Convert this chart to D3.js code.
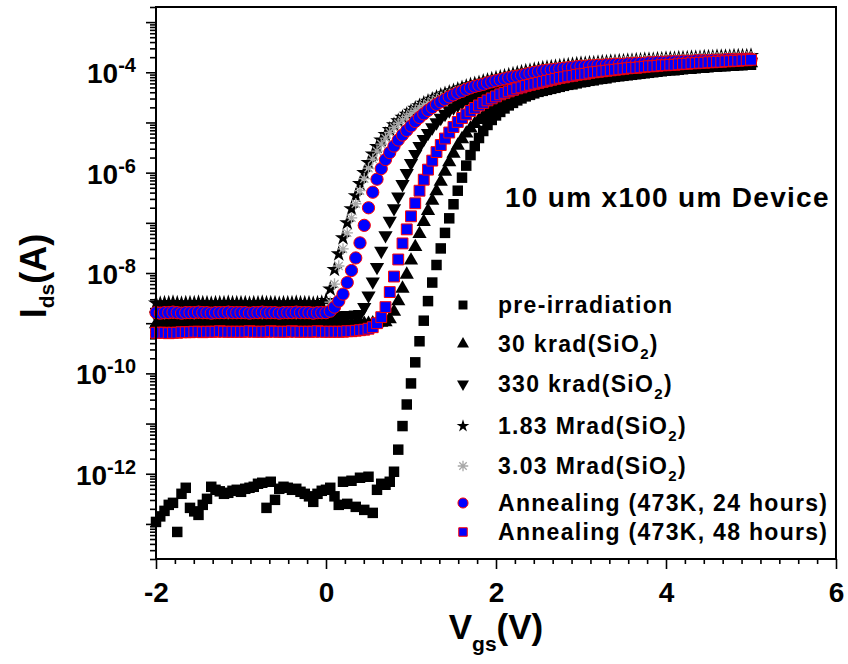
<!DOCTYPE html>
<html>
<head>
<meta charset="utf-8">
<script src="https://cdn.jsdelivr.net/npm/d3@7"></script>
<style>
  html, body { margin: 0; padding: 0; background: #fff; }
  svg { display: block; font-family: "Liberation Sans", Arial, sans-serif; font-weight: bold; }
</style>
</head>
<body>
<svg id="chart" width="848" height="664"></svg>
<script>
// Gate sweep (V)
const vgs = [
  -2.00,-1.95,-1.90,-1.85,-1.80,-1.75,-1.70,-1.65,-1.60,-1.55,-1.50,-1.45,-1.40,-1.35,-1.30,-1.25,-1.20,-1.15,-1.10,-1.05,
  -1.00,-0.95,-0.90,-0.85,-0.80,-0.75,-0.70,-0.65,-0.60,-0.55,-0.50,-0.45,-0.40,-0.35,-0.30,-0.25,-0.20,-0.15,-0.10,-0.05,
  0.00,0.05,0.10,0.15,0.20,0.25,0.30,0.35,0.40,0.45,0.50,0.55,0.60,0.65,0.70,0.75,0.80,0.85,0.90,0.95,
  1.00,1.05,1.10,1.15,1.20,1.25,1.30,1.35,1.40,1.45,1.50,1.55,1.60,1.65,1.70,1.75,1.80,1.85,1.90,1.95,
  2.00,2.05,2.10,2.15,2.20,2.25,2.30,2.35,2.40,2.45,2.50,2.55,2.60,2.65,2.70,2.75,2.80,2.85,2.90,2.95,
  3.00,3.05,3.10,3.15,3.20,3.25,3.30,3.35,3.40,3.45,3.50,3.55,3.60,3.65,3.70,3.75,3.80,3.85,3.90,3.95,
  4.00,4.05,4.10,4.15,4.20,4.25,4.30,4.35,4.40,4.45,4.50,4.55,4.60,4.65,4.70,4.75,4.80,4.85,4.90,4.95,
  5.00
];

// log10(Ids / A) for each condition, one value per gate voltage above
const logPre = [
  -12.96,-12.85,-12.74,-12.62,-12.58,-13.16,-12.40,-12.28,-12.68,-12.75,-12.82,-12.62,-12.50,-12.26,-12.32,-12.35,-12.40,-12.38,-12.34,-12.32,
  -12.36,-12.30,-12.28,-12.26,-12.20,-12.18,-12.68,-12.16,-12.52,-12.30,-12.26,-12.28,-12.32,-12.30,-12.36,-12.40,-12.45,-12.56,-12.40,-12.34,
  -12.32,-12.28,-12.45,-12.62,-12.16,-12.60,-12.14,-12.66,-12.08,-12.72,-12.06,-12.78,-12.32,-12.20,-12.22,-12.16,-11.96,-11.52,-11.05,-10.62,
  -10.20,-9.78,-9.36,-8.95,-8.56,-8.19,-7.84,-7.51,-7.20,-6.91,-6.63,-6.36,-6.10,-5.86,-5.65,-5.47,-5.31,-5.17,-5.05,-4.95,
  -4.86,-4.79,-4.72,-4.66,-4.61,-4.56,-4.52,-4.48,-4.45,-4.42,-4.39,-4.37,-4.35,-4.33,-4.31,-4.29,-4.27,-4.25,-4.24,-4.22,
  -4.20,-4.19,-4.17,-4.16,-4.14,-4.13,-4.12,-4.10,-4.09,-4.08,-4.07,-4.06,-4.05,-4.04,-4.03,-4.02,-4.01,-4.00,-3.99,-3.98,
  -3.97,-3.96,-3.96,-3.95,-3.94,-3.93,-3.93,-3.92,-3.91,-3.91,-3.90,-3.89,-3.89,-3.88,-3.88,-3.87,-3.87,-3.86,-3.86,-3.85,
  -3.85
];
const log30k = [
  -9.02,-9.02,-9.01,-9.02,-9.02,-9.03,-9.01,-9.02,-9.02,-9.02,-9.03,-9.01,-9.02,-9.02,-9.02,-9.02,-9.01,-9.02,-9.03,-9.02,
  -9.02,-9.02,-9.02,-9.01,-9.02,-9.02,-9.03,-9.02,-9.01,-9.02,-9.02,-9.02,-9.02,-9.03,-9.01,-9.02,-9.02,-9.02,-9.02,-9.02,
  -9.02,-9.02,-9.02,-9.02,-9.02,-9.02,-9.02,-9.01,-9.01,-9.01,-9.01,-9.00,-9.00,-8.99,-8.98,-8.92,-8.77,-8.56,-8.31,-8.03,
  -7.75,-7.48,-7.22,-6.98,-6.76,-6.56,-6.37,-6.18,-5.98,-5.79,-5.62,-5.46,-5.33,-5.22,-5.12,-5.03,-4.95,-4.88,-4.81,-4.75,
  -4.69,-4.64,-4.59,-4.55,-4.51,-4.48,-4.45,-4.42,-4.40,-4.38,-4.36,-4.34,-4.32,-4.30,-4.28,-4.26,-4.24,-4.22,-4.21,-4.19,
  -4.17,-4.16,-4.14,-4.13,-4.11,-4.10,-4.09,-4.07,-4.06,-4.05,-4.04,-4.03,-4.02,-4.01,-4.00,-3.99,-3.98,-3.97,-3.96,-3.95,
  -3.94,-3.93,-3.93,-3.92,-3.91,-3.90,-3.90,-3.89,-3.88,-3.88,-3.87,-3.86,-3.86,-3.85,-3.85,-3.84,-3.84,-3.83,-3.83,-3.82,
  -3.82
];
const log330k = [
  -8.85,-8.86,-8.85,-8.85,-8.84,-8.85,-8.86,-8.85,-8.85,-8.85,-8.84,-8.85,-8.85,-8.86,-8.85,-8.85,-8.85,-8.84,-8.85,-8.85,
  -8.85,-8.85,-8.86,-8.85,-8.85,-8.84,-8.85,-8.85,-8.85,-8.86,-8.85,-8.85,-8.85,-8.84,-8.85,-8.85,-8.85,-8.86,-8.85,-8.85,
  -8.85,-8.85,-8.85,-8.85,-8.85,-8.84,-8.84,-8.83,-8.82,-8.68,-8.45,-8.17,-7.88,-7.56,-7.25,-6.96,-6.71,-6.48,-6.23,-6.01,
  -5.81,-5.63,-5.47,-5.33,-5.21,-5.10,-5.00,-4.91,-4.83,-4.76,-4.70,-4.65,-4.60,-4.56,-4.52,-4.48,-4.45,-4.42,-4.39,-4.36,
  -4.33,-4.30,-4.28,-4.26,-4.24,-4.22,-4.20,-4.18,-4.17,-4.15,-4.13,-4.12,-4.10,-4.09,-4.08,-4.06,-4.05,-4.04,-4.03,-4.02,
  -4.01,-4.00,-3.99,-3.98,-3.97,-3.96,-3.95,-3.95,-3.94,-3.93,-3.92,-3.92,-3.91,-3.90,-3.90,-3.89,-3.89,-3.88,-3.88,-3.87,
  -3.87,-3.86,-3.86,-3.85,-3.85,-3.84,-3.84,-3.83,-3.83,-3.83,-3.82,-3.82,-3.81,-3.81,-3.81,-3.80,-3.80,-3.80,-3.79,-3.79,
  -3.79
];
const log183M = [
  -8.60,-8.61,-8.60,-8.60,-8.59,-8.60,-8.61,-8.60,-8.60,-8.60,-8.59,-8.60,-8.60,-8.61,-8.60,-8.60,-8.60,-8.59,-8.60,-8.60,
  -8.60,-8.60,-8.61,-8.60,-8.60,-8.59,-8.60,-8.60,-8.60,-8.61,-8.60,-8.60,-8.60,-8.59,-8.60,-8.60,-8.60,-8.61,-8.60,-8.59,
  -8.55,-8.32,-7.93,-7.62,-7.30,-7.00,-6.72,-6.46,-6.22,-6.00,-5.80,-5.63,-5.48,-5.35,-5.24,-5.14,-5.05,-4.97,-4.90,-4.84,
  -4.78,-4.72,-4.67,-4.62,-4.58,-4.54,-4.50,-4.46,-4.43,-4.40,-4.37,-4.34,-4.31,-4.28,-4.25,-4.23,-4.21,-4.18,-4.16,-4.14,
  -4.12,-4.10,-4.08,-4.06,-4.04,-4.02,-4.00,-3.98,-3.97,-3.95,-3.94,-3.92,-3.91,-3.90,-3.89,-3.88,-3.87,-3.86,-3.85,-3.84,
  -3.83,-3.83,-3.82,-3.82,-3.81,-3.80,-3.80,-3.79,-3.79,-3.78,-3.78,-3.77,-3.77,-3.76,-3.76,-3.75,-3.75,-3.75,-3.74,-3.74,
  -3.73,-3.73,-3.73,-3.72,-3.72,-3.72,-3.71,-3.71,-3.71,-3.70,-3.70,-3.70,-3.69,-3.69,-3.69,-3.69,-3.68,-3.68,-3.68,-3.68,
  -3.67
];
const log303M = [
  -8.80,-8.80,-8.81,-8.80,-8.80,-8.80,-8.79,-8.80,-8.80,-8.81,-8.80,-8.80,-8.80,-8.80,-8.79,-8.80,-8.80,-8.81,-8.80,-8.80,
  -8.80,-8.79,-8.80,-8.80,-8.80,-8.81,-8.80,-8.80,-8.80,-8.80,-8.79,-8.80,-8.80,-8.81,-8.80,-8.80,-8.80,-8.80,-8.79,-8.80,
  -8.78,-8.58,-8.22,-7.86,-7.52,-7.20,-6.90,-6.62,-6.36,-6.12,-5.91,-5.73,-5.57,-5.43,-5.31,-5.20,-5.10,-5.02,-4.95,-4.88,
  -4.82,-4.76,-4.71,-4.66,-4.62,-4.58,-4.54,-4.50,-4.47,-4.44,-4.41,-4.38,-4.35,-4.32,-4.29,-4.27,-4.24,-4.22,-4.20,-4.18,
  -4.16,-4.14,-4.12,-4.10,-4.08,-4.06,-4.04,-4.02,-4.00,-3.99,-3.97,-3.96,-3.94,-3.93,-3.92,-3.91,-3.90,-3.89,-3.88,-3.87,
  -3.86,-3.85,-3.84,-3.84,-3.83,-3.82,-3.82,-3.81,-3.80,-3.80,-3.79,-3.79,-3.78,-3.78,-3.77,-3.77,-3.77,-3.76,-3.76,-3.75,
  -3.75,-3.75,-3.74,-3.74,-3.74,-3.73,-3.73,-3.73,-3.72,-3.72,-3.72,-3.71,-3.71,-3.71,-3.71,-3.70,-3.70,-3.70,-3.70,-3.69,
  -3.69
];
const logAnneal24 = [
  -8.79,-8.80,-8.79,-8.79,-8.78,-8.79,-8.80,-8.79,-8.79,-8.79,-8.78,-8.79,-8.79,-8.80,-8.79,-8.79,-8.79,-8.78,-8.79,-8.79,
  -8.79,-8.79,-8.80,-8.79,-8.79,-8.78,-8.79,-8.79,-8.79,-8.80,-8.79,-8.79,-8.79,-8.78,-8.79,-8.79,-8.79,-8.80,-8.79,-8.79,
  -8.79,-8.76,-8.68,-8.56,-8.42,-8.19,-7.95,-7.70,-7.40,-7.05,-6.70,-6.39,-6.13,-5.92,-5.74,-5.60,-5.47,-5.35,-5.25,-5.16,
  -5.07,-4.98,-4.90,-4.83,-4.76,-4.70,-4.64,-4.59,-4.54,-4.49,-4.45,-4.41,-4.38,-4.34,-4.31,-4.28,-4.26,-4.24,-4.21,-4.19,
  -4.17,-4.15,-4.13,-4.11,-4.09,-4.08,-4.06,-4.04,-4.02,-4.00,-3.99,-3.97,-3.96,-3.95,-3.94,-3.93,-3.92,-3.91,-3.90,-3.89,
  -3.88,-3.88,-3.87,-3.87,-3.86,-3.86,-3.85,-3.85,-3.84,-3.84,-3.84,-3.83,-3.83,-3.82,-3.82,-3.82,-3.81,-3.81,-3.80,-3.80,
  -3.80,-3.79,-3.79,-3.79,-3.78,-3.78,-3.78,-3.77,-3.77,-3.77,-3.77,-3.76,-3.76,-3.76,-3.75,-3.75,-3.75,-3.75,-3.74,-3.74,
  -3.74
];
const logAnneal48 = [
  -9.19,-9.19,-9.19,-9.20,-9.19,-9.19,-9.18,-9.18,-9.18,-9.17,-9.17,-9.18,-9.17,-9.17,-9.17,-9.16,-9.17,-9.17,-9.17,-9.17,
  -9.17,-9.17,-9.16,-9.17,-9.17,-9.17,-9.17,-9.16,-9.17,-9.17,-9.17,-9.17,-9.16,-9.17,-9.17,-9.17,-9.17,-9.17,-9.16,-9.17,
  -9.17,-9.17,-9.17,-9.17,-9.17,-9.16,-9.16,-9.15,-9.14,-9.13,-9.11,-9.08,-9.00,-8.88,-8.68,-8.38,-8.07,-7.73,-7.41,-7.13,
  -6.87,-6.61,-6.36,-6.14,-5.94,-5.76,-5.59,-5.45,-5.32,-5.20,-5.09,-4.99,-4.91,-4.84,-4.77,-4.71,-4.66,-4.61,-4.56,-4.52,
  -4.48,-4.44,-4.41,-4.38,-4.35,-4.32,-4.30,-4.27,-4.25,-4.23,-4.21,-4.19,-4.17,-4.15,-4.13,-4.11,-4.10,-4.08,-4.07,-4.05,
  -4.04,-4.03,-4.01,-4.00,-3.99,-3.98,-3.97,-3.96,-3.95,-3.94,-3.93,-3.92,-3.91,-3.91,-3.90,-3.89,-3.88,-3.88,-3.87,-3.86,
  -3.86,-3.85,-3.85,-3.84,-3.83,-3.83,-3.82,-3.82,-3.81,-3.81,-3.80,-3.80,-3.79,-3.79,-3.78,-3.78,-3.77,-3.77,-3.76,-3.76,
  -3.75
];

const legendLabels = [
  "pre-irradiation",
  "30 krad(SiO2)",
  "330 krad(SiO2)",
  "1.83 Mrad(SiO2)",
  "3.03 Mrad(SiO2)",
  "Annealing (473K, 24 hours)",
  "Annealing (473K, 48 hours)"
];
const xTickValues = [-2, 0, 2, 4, 6];
const yLabelExponents = [-4, -6, -8, -10, -12];
const deviceNote = "10 um x100 um Device";

// ---------- layout ----------
const svg = d3.select("#chart");
const plotL = 156, plotR = 836, plotT = 7, plotB = 559;

const x = d3.scaleLinear().domain([-2, 6]).range([plotL, plotR]);
const y = d3.scaleLog().domain([2e-14, 2e-3]).range([plotB, plotT]);

// asterisk: four crossing strokes
const symbolAsterisk = {
  draw(ctx, size) {
    const r = Math.sqrt(size) / 2;
    for (let k = 0; k < 4; k++) {
      const a = k * Math.PI / 4;
      const dx = r * Math.sin(a), dy = r * Math.cos(a);
      ctx.moveTo(-dx, -dy);
      ctx.lineTo(dx, dy);
    }
  }
};

const styles = [
  { type: d3.symbolSquare,   size: 110, fill: "#000", stroke: "none", rot: 0, lsize: 80 },
  { type: d3.symbolTriangle, size: 88,  fill: "#000", stroke: "none", rot: 0, lsize: 62 },
  { type: d3.symbolTriangle, size: 88,  fill: "#000", stroke: "none", rot: 180, lsize: 62 },
  { type: d3.symbolStar,     size: 80,  fill: "#000", stroke: "none", rot: 0, lsize: 50 },
  { type: symbolAsterisk,    size: 130, fill: "none", stroke: "#a8a8a8", sw: 1.3, rot: 0, lsize: 110 },
  { type: d3.symbolCircle,   size: 118, fill: "#0000ff", stroke: "#ff0000", sw: 1, rot: 0, lsize: 80 },
  { type: d3.symbolSquare,   size: 118, fill: "#0000ff", stroke: "#ff0000", sw: 1, rot: 0, lsize: 72 }
];
const seriesValues = [logPre, log30k, log330k, log183M, log303M, logAnneal24, logAnneal48];

// ---------- axes ----------
const xMinor = [];
for (let i = 0; i < xTickValues.length - 1; i++) {
  const a = xTickValues[i], b = xTickValues[i + 1];
  for (let k = 1; k < 9; k++) xMinor.push(a + (b - a) * k / 9);
}
const yMajor = d3.range(-13, -2).map(e => Math.pow(10, e));
const yMinor = [];
for (let e = -14; e <= -3; e++) {
  for (let k = 2; k <= 9; k++) {
    const v = k * Math.pow(10, e);
    if (v >= 2e-14 && v <= 2e-3) yMinor.push(v);
  }
}

const gx = svg.append("g").attr("transform", `translate(0,${plotB})`);
gx.call(d3.axisBottom(x).tickValues(xMinor).tickSize(5).tickFormat(""));
gx.select(".domain").remove();
const gxMaj = svg.append("g").attr("transform", `translate(0,${plotB})`)
  .call(d3.axisBottom(x).tickValues(xTickValues).tickSize(10).tickPadding(13).tickFormat(d => String(d)));
gxMaj.select(".domain").remove();
gxMaj.selectAll("text").attr("fill", "#000").style("font-size", "28px").style("font-family", "inherit");

const gy = svg.append("g").attr("transform", `translate(${plotL},0)`)
  .call(d3.axisLeft(y).tickValues(yMinor).tickSize(6).tickFormat(""));
gy.select(".domain").remove();
const gyMaj = svg.append("g").attr("transform", `translate(${plotL},0)`)
  .call(d3.axisLeft(y).tickValues(yMajor).tickSize(10).tickFormat(""));
gyMaj.select(".domain").remove();
svg.selectAll(".tick line").attr("stroke", "#000").attr("stroke-width", 1.6);

yLabelExponents.forEach(e => {
  const t = svg.append("text")
    .attr("x", 136).attr("y", y(Math.pow(10, e)) + 11)
    .attr("text-anchor", "end").style("font-size", "28px");
  t.append("tspan").text("10");
  t.append("tspan").attr("dy", -11).style("font-size", "20px").text(String(e));
});

// ---------- data ----------
const plot = svg.append("g");
seriesValues.forEach((vals, si) => {
  const st = styles[si];
  const sym = d3.symbol().type(st.type).size(st.size);
  const pts = vgs.map((v, i) => [v, Math.pow(10, vals[i])]);
  plot.append("g").selectAll("path").data(pts).join("path")
    .attr("transform", d => `translate(${x(d[0])},${y(d[1])})` + (st.rot ? ` rotate(${st.rot})` : ""))
    .attr("d", sym)
    .attr("fill", st.fill)
    .attr("stroke", st.stroke)
    .attr("stroke-width", st.sw || 0);
});

// ---------- frame ----------
svg.append("rect")
  .attr("x", plotL).attr("y", plotT)
  .attr("width", plotR - plotL).attr("height", plotB - plotT)
  .attr("fill", "none").attr("stroke", "#000").attr("stroke-width", 2);

// ---------- note ----------
svg.append("text").attr("x", 505).attr("y", 207)
  .style("font-size", "28px").style("letter-spacing", "1.3px")
  .text(deviceNote);

// ---------- legend ----------
const legendBaselines = [313, 352, 392, 434, 474, 511, 540];
legendLabels.forEach((lab, i) => {
  const st = styles[i];
  const by = legendBaselines[i];
  svg.append("path")
    .attr("transform", `translate(463,${by - 8})` + (st.rot ? ` rotate(${st.rot})` : ""))
    .attr("d", d3.symbol().type(st.type).size(st.lsize)())
    .attr("fill", st.fill).attr("stroke", st.stroke).attr("stroke-width", st.sw || 0);
  const t = svg.append("text").attr("x", 498).attr("y", by)
    .style("font-size", "23px").style("letter-spacing", "1.3px");
  const k = lab.indexOf("SiO2");
  if (k >= 0) {
    t.append("tspan").text(lab.slice(0, k + 3));
    t.append("tspan").attr("dy", 7).style("font-size", "15px").text("2");
    t.append("tspan").attr("dy", -7).text(lab.slice(k + 4));
  } else {
    t.text(lab);
  }
});

// ---------- axis titles ----------
const xt = svg.append("text").attr("x", (plotL + plotR) / 2).attr("y", 639)
  .attr("text-anchor", "middle").style("font-size", "35px");
xt.append("tspan").text("V");
xt.append("tspan").attr("dy", 12).style("font-size", "21px").text("gs");
xt.append("tspan").attr("dy", -12).text("(V)");

const yt = svg.append("text")
  .attr("transform", `translate(46,276) rotate(-90)`)
  .attr("text-anchor", "middle").style("font-size", "36px");
yt.append("tspan").text("I");
yt.append("tspan").attr("dy", 8).style("font-size", "21px").text("ds");
yt.append("tspan").attr("dy", -8).text("(A)");
</script>
</body>
</html>
